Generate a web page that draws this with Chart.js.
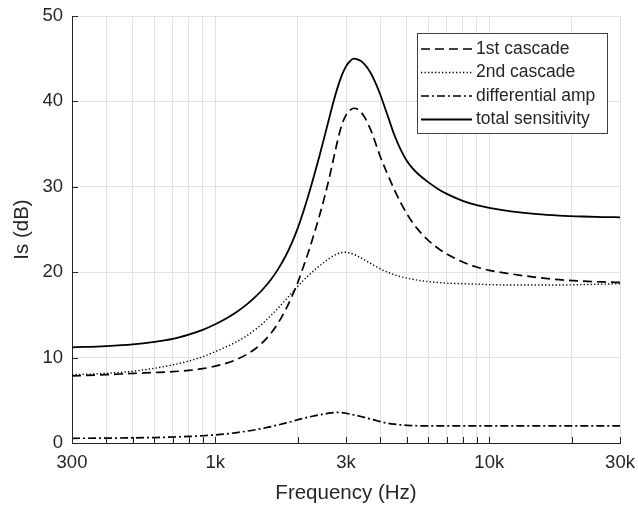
<!DOCTYPE html>
<html lang="en">
  <head>
    <meta charset="utf-8" />
    <title>Is (dB) vs frequency</title>
    <style>
      * {
        margin: 0;
        padding: 0;
      }
      body {
        background: #fff;
      }
    </style>
  </head>
  <body>
    <canvas id="myChart" width="638" height="507"></canvas>
    <script src="https://cdn.jsdelivr.net/npm/chart.js"></script>
    <script>
      // data
      const freqs = [300, 400, 500, 600, 700, 800, 900, 1000, 1100, 1200, 1300, 1400, 1500, 1600, 1700, 1800, 1900, 2000, 2100, 2200, 2300, 2400, 2500, 2600, 2700, 2800, 2900, 3000, 3100, 3200, 3300, 3400, 3500, 3600, 3700, 3800, 3900, 4000, 4250, 4500, 4750, 5000, 5250, 5500, 6000, 6500, 7000, 8000, 9000, 10000, 12000, 15000, 18000, 22000, 26000, 30000];
      const firstCascade = [7.85, 8.0, 8.15, 8.25, 8.35, 8.5, 8.7, 9.0, 9.35, 9.8, 10.36, 11.04, 11.88, 12.89, 14.1, 15.5, 17.1, 18.8, 20.7, 22.6, 24.6, 26.6, 28.7, 30.9, 33.25, 35.5, 37.3, 38.4, 38.95, 39.2, 39.1, 38.75, 38.2, 37.45, 36.6, 35.6, 34.55, 33.55, 31.5, 29.69, 28.14, 26.86, 25.82, 24.98, 23.71, 22.81, 22.13, 21.2, 20.61, 20.22, 19.8, 19.38, 19.12, 18.95, 18.86, 18.8];
      const secondCascade = [8.0, 8.15, 8.4, 8.75, 9.15, 9.6, 10.1, 10.7, 11.28, 11.88, 12.54, 13.28, 14.09, 14.96, 15.84, 16.71, 17.56, 18.35, 19.06, 19.69, 20.24, 20.72, 21.18, 21.59, 21.92, 22.16, 22.3, 22.33, 22.25, 22.1, 21.9, 21.68, 21.45, 21.22, 21.0, 20.78, 20.58, 20.38, 20.0, 19.7, 19.47, 19.3, 19.17, 19.05, 18.9, 18.8, 18.72, 18.65, 18.6, 18.55, 18.5, 18.5, 18.5, 18.55, 18.6, 18.65];
      const diffAmp = [0.55, 0.57, 0.6, 0.64, 0.7, 0.77, 0.85, 0.95, 1.07, 1.22, 1.38, 1.55, 1.73, 1.92, 2.12, 2.32, 2.52, 2.72, 2.9, 3.05, 3.18, 3.3, 3.4, 3.5, 3.56, 3.58, 3.55, 3.48, 3.39, 3.3, 3.2, 3.1, 3.0, 2.9, 2.8, 2.7, 2.6, 2.5, 2.32, 2.2, 2.12, 2.07, 2.04, 2.02, 2.0, 2.0, 2.0, 2.0, 2.0, 2.0, 2.0, 2.0, 2.0, 2.0, 2.0, 2.0];
      const totalSens = [11.2, 11.35, 11.55, 11.85, 12.2, 12.7, 13.25, 13.9, 14.6, 15.36, 16.2, 17.1, 18.09, 19.18, 20.42, 21.81, 23.38, 25.16, 27.17, 29.27, 31.43, 33.61, 35.79, 37.93, 39.95, 41.7, 43.1, 44.1, 44.7, 45.0, 44.93, 44.72, 44.37, 43.88, 43.26, 42.53, 41.71, 40.81, 38.4, 36.1, 34.35, 33.05, 32.15, 31.5, 30.52, 29.75, 29.17, 28.36, 27.85, 27.53, 27.13, 26.79, 26.63, 26.52, 26.46, 26.43];

      // grid positions and labelled ticks
      const xGrid = [300, 400, 500, 600, 700, 800, 900, 1000, 2000, 3000, 4000, 5000, 6000, 7000, 8000, 9000, 10000, 20000, 30000];
      const xLabels = { 300: '300', 1000: '1k', 3000: '3k', 10000: '10k', 30000: '30k' };
      const yTicks = [0, 10, 20, 30, 40, 50];

      const FONT = "'Liberation Sans', Arial, Helvetica, sans-serif";
      const INK = '#262626';
      const GRID = '#e2e2e2';

      const toPoints = (ys) => freqs.map((f, i) => ({ x: f, y: ys[i] }));

      const mkSet = (label, ys, dash, width) => ({
        label,
        data: toPoints(ys),
        borderColor: '#000',
        borderWidth: width,
        borderDash: dash,
        pointRadius: 0,
        fill: false,
        cubicInterpolationMode: 'monotone',
      });

      const data = {
        datasets: [
          mkSet('1st cascade', firstCascade, [9, 5], 1.7),
          mkSet('2nd cascade', secondCascade, [1.3, 2.2], 1.4),
          mkSet('differential amp', diffAmp, [8, 3, 2, 3], 1.7),
          mkSet('total sensitivity', totalSens, [], 1.8),
        ],
      };

      // inward tick marks, like the original axes
      const innerTicks = {
        id: 'innerTicks',
        afterDatasetsDraw(chart) {
          const { ctx, chartArea, scales } = chart;
          ctx.save();
          ctx.strokeStyle = INK;
          ctx.lineWidth = 1;
          ctx.beginPath();
          xGrid.forEach((v) => {
            const px = Math.round(scales.x.getPixelForValue(v)) + 0.5;
            ctx.moveTo(px, chartArea.bottom);
            ctx.lineTo(px, chartArea.bottom - 6);
          });
          yTicks.forEach((v) => {
            const py = Math.round(scales.y.getPixelForValue(v)) + 0.5;
            ctx.moveTo(chartArea.left, py);
            ctx.lineTo(chartArea.left + 6, py);
          });
          ctx.stroke();
          ctx.restore();
        },
      };

      // legend box in the upper right of the plot
      const boxLegend = {
        id: 'boxLegend',
        afterDraw(chart) {
          const { ctx, chartArea } = chart;
          const w = 190, h = 100;
          const x0 = chartArea.right - 13 - w;
          const y0 = chartArea.top + 17;
          ctx.save();
          ctx.fillStyle = '#fff';
          ctx.fillRect(x0, y0, w, h);
          ctx.strokeStyle = '#404040';
          ctx.lineWidth = 1;
          ctx.strokeRect(Math.round(x0) + 0.5, Math.round(y0) + 0.5, w, h);
          ctx.font = '17.5px ' + FONT;
          ctx.textBaseline = 'middle';
          ctx.textAlign = 'left';
          chart.data.datasets.forEach((ds, i) => {
            const cy = y0 + 16 + i * 23.5;
            ctx.beginPath();
            ctx.setLineDash(ds.borderDash);
            ctx.lineWidth = ds.borderWidth;
            ctx.strokeStyle = '#000';
            ctx.moveTo(x0 + 4, cy);
            ctx.lineTo(x0 + 55, cy);
            ctx.stroke();
            ctx.setLineDash([]);
            ctx.fillStyle = INK;
            ctx.fillText(ds.label, x0 + 59, cy);
          });
          ctx.restore();
        },
      };

      const config = {
        type: 'line',
        data,
        options: {
          responsive: false,
          animation: false,
          layout: { padding: { top: 16, right: 18, bottom: 0, left: 0 } },
          plugins: {
            legend: { display: false },
            tooltip: { enabled: false },
          },
          scales: {
            x: {
              type: 'logarithmic',
              min: 300,
              max: 30000,
              afterBuildTicks: (scale) => {
                scale.ticks = xGrid.map((v) => ({ value: v }));
              },
              afterFit: (scale) => {
                scale.height = 64;
                scale.paddingLeft = 0;
                scale.paddingRight = 0;
              },
              ticks: {
                autoSkip: false,
                maxRotation: 0,
                padding: 9,
                color: INK,
                font: { family: FONT, size: 18.5 },
                callback: (v) => xLabels[v] || '',
              },
              grid: { color: GRID, drawTicks: false },
              border: { display: true, color: INK, width: 1 },
              title: {
                display: true,
                text: 'Frequency (Hz)',
                color: INK,
                font: { family: FONT, size: 20.5 },
                padding: { top: 0, bottom: 1 },
              },
            },
            y: {
              min: 0,
              max: 50,
              afterBuildTicks: (scale) => {
                scale.ticks = yTicks.map((v) => ({ value: v }));
              },
              afterFit: (scale) => {
                scale.width = 72;
                scale.paddingTop = 0;
                scale.paddingBottom = 0;
              },
              ticks: {
                padding: 9,
                color: INK,
                font: { family: FONT, size: 18.5 },
              },
              grid: { color: GRID, drawTicks: false },
              border: { display: true, color: INK, width: 1 },
              title: {
                display: true,
                text: 'Is (dB)',
                color: INK,
                font: { family: FONT, size: 20.5 },
                padding: { top: 10, bottom: 0 },
              },
            },
          },
        },
        plugins: [innerTicks, boxLegend],
      };

      const myChart = new Chart(document.getElementById('myChart'), config);
    </script>
  </body>
</html>
